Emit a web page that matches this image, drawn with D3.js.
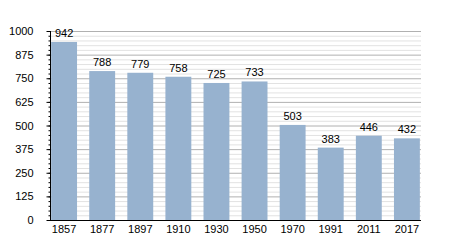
<!DOCTYPE html>
<html><head><meta charset="utf-8">
<script src="https://cdn.jsdelivr.net/npm/d3@7"></script>
<style>body{margin:0;background:#fff}text{font-family:"Liberation Sans",Arial,sans-serif}</style>
</head><body><svg id="c" width="450" height="250"></svg>
<script>
const years = ["1857","1877","1897","1910","1930","1950","1970","1991","2011","2017"];
const population = [942,788,779,758,725,733,503,383,446,432];
const yTicks = [0,125,250,375,500,625,750,875,1000];

const svg = d3.select("#c");
const m = {l:50, r:29, t:31, b:30};
const W = 450, H = 250;
const x = d3.scaleBand().domain(years).range([m.l, W-m.r]).paddingInner(0.32).paddingOuter(0.03);
const y = d3.scaleLinear().domain([0,1000]).range([H-m.b, m.t]);

const g = svg.append("g");
g.selectAll("line.minor").data(d3.range(25,1000,25).filter(v=>v%125!==0)).join("line")
  .attr("x1", m.l).attr("x2", W-m.r).attr("y1", d=>y(d)+0.5).attr("y2", d=>y(d)+0.5)
  .attr("stroke", "#e2e2e2").attr("stroke-width",1);
g.selectAll("line.major").data(yTicks.filter(v=>v>0)).join("line")
  .attr("x1", m.l).attr("x2", W-m.r).attr("y1", d=>y(d)+0.5).attr("y2", d=>y(d)+0.5)
  .attr("stroke", "#b0b0b0").attr("stroke-width",1);

svg.selectAll("rect.bar").data(population).join("rect")
  .attr("x", (d,i)=>x(years[i])).attr("width", x.bandwidth())
  .attr("y", d=>y(d)).attr("height", d=>y(0)-y(d))
  .attr("fill", "#97b2cf");

svg.selectAll("text.val").data(population).join("text")
  .attr("x", (d,i)=>x(years[i])+x.bandwidth()/2).attr("y", d=>y(d)-5)
  .attr("text-anchor","middle").attr("font-size", 11).attr("fill","#000").text(d=>d);

const ya = svg.append("g").attr("transform",`translate(${m.l+0.5},0)`)
  .call(d3.axisLeft(y).tickValues(yTicks).tickSize(4).tickPadding(13).tickFormat(d3.format("d")));
ya.select(".domain").remove();
ya.selectAll("text").attr("font-size",11).attr("font-family","Liberation Sans, Arial, sans-serif").attr("fill","#000");
ya.selectAll("line").attr("stroke","#000");
svg.append("g").attr("transform",`translate(${m.l+0.5},0)`)
  .call(d3.axisLeft(y).tickValues(d3.range(0,1001,25)).tickSize(2).tickFormat(""))
  .call(a=>a.select(".domain").remove()).selectAll("line").attr("stroke","#000");
svg.append("line").attr("x1",m.l+0.5).attr("x2",m.l+0.5).attr("y1",m.t).attr("y2",y(0)).attr("stroke","#000");

const xa = svg.append("g").attr("transform",`translate(0,${y(0)+0.5})`)
  .call(d3.axisBottom(x).tickSize(0).tickPadding(5));
xa.select(".domain").attr("d",`M${m.l},0H${W-m.r}`).attr("stroke","#000");
xa.selectAll("text").attr("font-size",11).attr("font-family","Liberation Sans, Arial, sans-serif").attr("fill","#000");
</script></body></html>
